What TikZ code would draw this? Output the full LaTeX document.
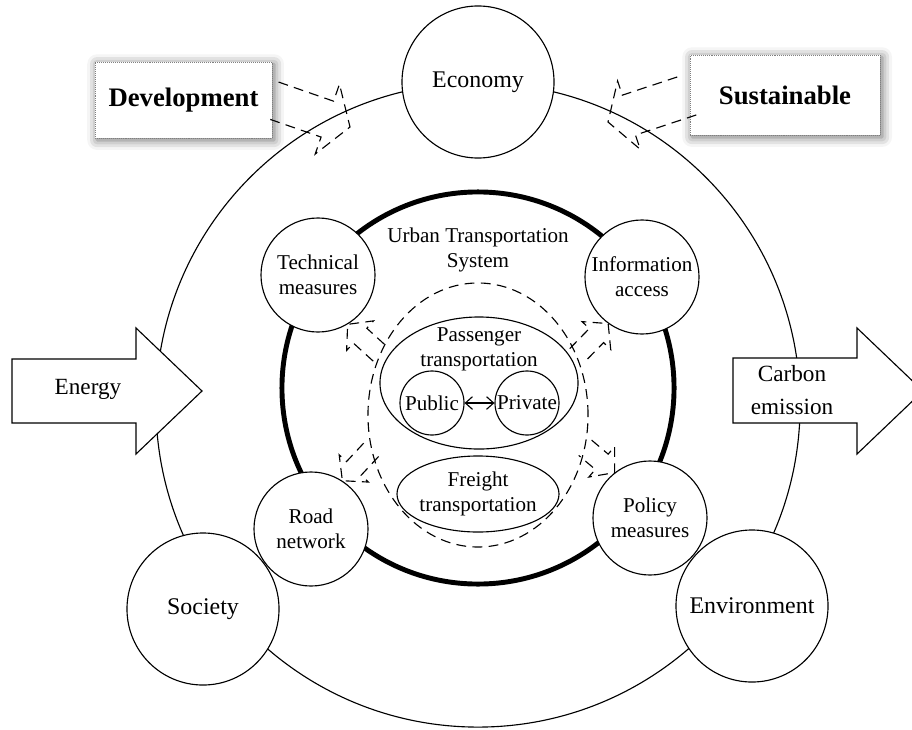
\documentclass[tikz,border=0pt]{standalone}
\usepackage{fontspec}
\setmainfont{Liberation Serif}
\usepackage{tikz}
\usetikzlibrary{arrows.meta}
\usetikzlibrary{calc}
\usetikzlibrary{shapes.geometric}
\usetikzlibrary{shadows.blur}

% dashed block arrow: tail, tip, shaft half width, head half width, head length
\newcommand{\blockarr}[5]{%
    \coordinate (hb) at ($(#2)!#5!(#1)$);
    \draw[dasharr] ($(#1)!#3!90:(#2)$) -- ($(hb)!#3!-90:(#1)$) -- ($(hb)!#4!-90:(#1)$)
        -- (#2) -- ($(hb)!#4!90:(#1)$) -- ($(hb)!#3!90:(#1)$) -- ($(#1)!#3!-90:(#2)$);
}

\begin{document}
\begin{tikzpicture}[x=0.025cm,y=-0.025cm,
    bigc/.style={draw, circle, fill=white, line width=0.8pt, minimum size=3.8cm, inner sep=0pt, font=\fontsize{17}{20}\selectfont},
    smallc/.style={draw, circle, fill=white, line width=0.8pt, minimum size=2.85cm, inner sep=0pt, align=center, font=\fontsize{15}{17.7}\selectfont},
    tinyc/.style={draw, circle, line width=0.8pt, minimum size=1.6cm, inner sep=0pt, font=\fontsize{15}{17.7}\selectfont},
    txt/.style={align=center, inner sep=0pt, font=\fontsize{15}{17.7}\selectfont},
    dasharr/.style={line width=0.8pt, dash pattern=on 7pt off 4.5pt},
    bigarr/.style={draw, fill=white, line width=0.8pt},
    keybox/.style={draw=gray, densely dotted, fill=white, inner sep=0pt, font=\bfseries\fontsize{19}{22}\selectfont,
        blur shadow={shadow xshift=1.5pt, shadow yshift=-1.5pt, shadow blur radius=7pt, shadow opacity=60}}]
    \useasboundingbox (0,0) rectangle (912,729);

    % outer ring
    \node[draw, circle, line width=0.8pt, minimum size=16.1cm] (ring) at (478,405) {};

    % energy in, carbon out
    \draw[bigarr] (12,359) -- (136,359) -- (136,328) -- (202,391) -- (136,454) -- (136,423) -- (12,423) -- cycle;
    \node[font=\fontsize{16.5}{24}\selectfont] (energy) at (88,389) {Energy};
    \draw[bigarr] (733,358) -- (857,358) -- (857,328) -- (923,391) -- (857,454) -- (857,423) -- (733,423) -- cycle;
    \node[align=center, font=\fontsize{16.5}{24}\selectfont] (carbon) at (792,390) {Carbon\\emission};

    \node[bigc] (econ) at (478,82) {Economy};
    \node[bigc] (soc) at (203,609) {Society};
    \node[bigc] (env) at (752,606) {Environment};

    % urban transportation system
    \node[draw, circle, line width=3.5pt, minimum size=9.8cm] (uts) at (478,388) {};
    \node[txt] (utstxt) at (478,250) {Urban Transportation\\System};

    \node[smallc] (tech) at (318,275) {Technical\\measures};
    \node[smallc] (info) at (642,277) {Information\\access};
    \node[smallc] (road) at (311,529) {Road\\network};
    \node[smallc] (pol) at (650,518) {Policy\\measures};

    \node[draw, ellipse, dasharr, minimum width=5.5cm, minimum height=6.6cm] (core) at (478,415) {};
    \node[draw, ellipse, line width=0.8pt, minimum width=4.95cm, minimum height=3.3cm] (pass) at (479,383) {};
    \node[txt] (passtxt) at (479,349) {Passenger\\transportation};
    \node[tinyc] (pub) at (432,403) {Public};
    \node[tinyc] (priv) at (527,403) {Private};
    \draw[{Straight Barb[length=5pt,width=9pt]}-{Straight Barb[length=5pt,width=9pt]}, line width=0.8pt] (pub) -- (priv);
    \node[draw, ellipse, line width=0.8pt, minimum width=4.05cm, minimum height=1.9cm] (freight) at (478,494) {};
    \node[txt] (freighttxt) at (478,494) {Freight\\transportation};

    % measures act on the system
    \blockarr{core.148}{tech.-59}{0.25cm}{0.5cm}{0.42cm}
    \blockarr{core.31}{info.-126}{0.25cm}{0.5cm}{0.42cm}
    \blockarr{core.198}{road.57}{0.25cm}{0.5cm}{0.42cm}
    \blockarr{core.-17}{pol.128}{0.25cm}{0.5cm}{0.42cm}

    % goals
    \node[keybox, minimum width=4.425cm, minimum height=1.9cm] (dev) at (183.5,100) {Development};
    \node[keybox, minimum width=4.75cm, minimum height=2cm] (sus) at (785,95) {Sustainable};
    \coordinate (devtip) at (350,127);
    \coordinate (sustip) at (608,122);
    \blockarr{dev.east}{devtip}{0.475cm}{0.925cm}{0.6cm}
    \blockarr{sus.west}{sustip}{0.525cm}{0.9cm}{0.55cm}
\end{tikzpicture}
\end{document}
